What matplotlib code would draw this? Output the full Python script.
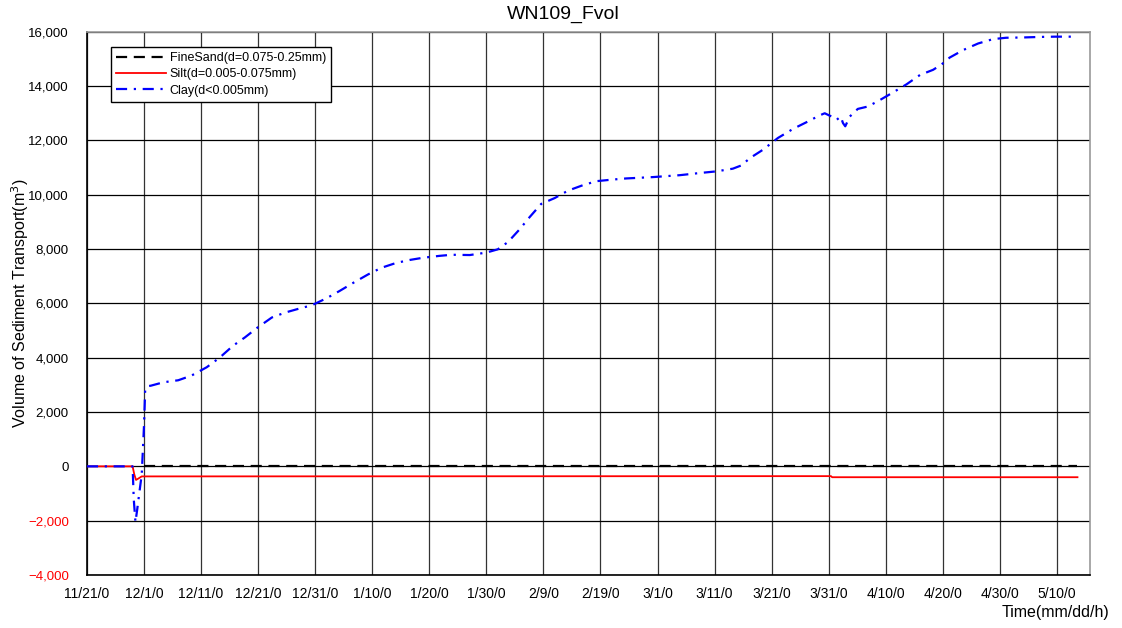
import matplotlib
matplotlib.use("Agg")
import matplotlib.pyplot as plt
from matplotlib.ticker import FuncFormatter

plt.rcParams['font.family'] = ['Liberation Sans', 'DejaVu Sans']

# Elapsed time in days from 11/21/0
tick_days = [0, 10, 20, 30, 40, 50, 60, 70, 80, 90, 100, 110, 120, 130, 140, 150, 160, 170]
tick_labels = ["11/21/0", "12/1/0", "12/11/0", "12/21/0", "12/31/0", "1/10/0", "1/20/0",
               "1/30/0", "2/9/0", "2/19/0", "3/1/0", "3/11/0", "3/21/0", "3/31/0",
               "4/10/0", "4/20/0", "4/30/0", "5/10/0"]

# Clay (d<0.005mm)
clay_days = [0, 8.0, 8.2, 8.5, 8.8, 9.2, 9.6, 10.0, 10.2, 10.6, 11.2, 13.4, 16.0, 18.3, 21.0,
             23.3, 25.6, 27.7, 29.9, 32.4, 34.7, 37.4, 39.4, 42.0, 44.3, 46.7, 49.3, 51.6,
             54.2, 56.6, 58.9, 61.8, 63.9, 67.1, 70.0, 72.0, 73.8, 75.8, 77.6, 79.6, 82.0,
             84.3, 86.9, 89.3, 92.2, 94.5, 99.2, 103.9, 107.4, 110.3, 113.2, 114.7, 116.2,
             118.5, 121.1, 123.8, 126.1, 128.4, 129.3, 130.5, 131.4, 132.1, 132.5, 132.9,
             133.7, 135.1, 136.9, 139.0, 141.3, 143.6, 146.0, 148.3, 149.8, 151.2, 153.6,
             156.2, 158.8, 161.1, 164.0, 167.0, 169.6, 173.4]
clay_vals = [0, 0, -1200, -2050, -1600, -940, -300, 1500, 2800, 2950, 2970, 3095, 3170, 3340,
             3650, 4010, 4440, 4750, 5110, 5480, 5660, 5820, 5930, 6190, 6460, 6760, 7070,
             7310, 7490, 7600, 7680, 7750, 7790, 7780, 7870, 7990, 8260, 8720, 9180, 9660,
             9880, 10150, 10350, 10500, 10560, 10600, 10650, 10720, 10800, 10860, 10960,
             11080, 11350, 11660, 12090, 12430, 12670, 12920, 13000, 12880, 12760, 12880,
             12640, 12520, 12880, 13160, 13250, 13490, 13770, 14060, 14410, 14600, 14800,
             15050, 15330, 15570, 15730, 15780, 15790, 15810, 15820, 15820]

# Silt (d=0.005-0.075mm)
silt_days = [0, 8.0, 8.3, 8.6, 9.0, 9.6, 10.0, 130.4, 130.6, 173.6]
silt_vals = [0, 0, -300, -500, -450, -370, -370, -360, -400, -400]

# FineSand (d=0.075-0.25mm)
sand_days = [10.0, 173.6]
sand_vals = [0, 0]

fig = plt.figure(figsize=(11.22, 6.28), dpi=100)
ax = fig.add_axes([0.0775, 0.0844, 0.894, 0.865])

ax.plot(sand_days, sand_vals, color='black', lw=1.6, dashes=(5, 3),
        label='FineSand(d=0.075-0.25mm)', zorder=3)
ax.plot(silt_days, silt_vals, color='#ff0000', lw=1.3,
        label='Silt(d=0.005-0.075mm)', zorder=4)
ax.plot(clay_days, clay_vals, color='#0000ff', lw=1.6, dashes=(5, 3, 1, 3),
        label='Clay(d<0.005mm)', zorder=5)

ax.set_xlim(0, 175.8)
ax.set_ylim(-4000, 16000)
ax.set_xticks(tick_days)
ax.set_xticklabels(tick_labels)
ax.set_yticks(range(-4000, 16001, 2000))


def fmt(v, pos):
    s = f"{abs(int(v)):,}"
    return "\u2212" + s if v < 0 else s


ax.yaxis.set_major_formatter(FuncFormatter(fmt))
for lab in ax.get_yticklabels():
    if lab.get_text().startswith("\u2212"):
        lab.set_color('#ff0000')

ax.tick_params(axis='x', length=0, labelsize=10, pad=9)
ax.tick_params(axis='y', length=0, labelsize=9.5, pad=13)
ax.grid(axis='x', color='#333333', lw=0.9)
ax.grid(axis='y', color='black', lw=0.9)
ax.set_axisbelow(True)

for side in ('left', 'bottom'):
    ax.spines[side].set_color('black')
    ax.spines[side].set_linewidth(1.2)
for side in ('top', 'right'):
    ax.spines[side].set_color('#999999')
    ax.spines[side].set_linewidth(1.2)

fig.text(0.502, 0.977, 'WN109_Fvol', ha='center', va='center', fontsize=14)
ax.set_ylabel('Volume of Sediment Transport(m$^3$)', fontsize=11.5)
ax.yaxis.set_label_coords(-0.056, 0.5)
fig.text(0.989, 0.013, 'Time(mm/dd/h)', ha='right', va='bottom', fontsize=11.5)

leg = ax.legend(loc='upper left', bbox_to_anchor=(0.024, 0.972), fontsize=9,
                frameon=True, fancybox=False, framealpha=1, edgecolor='black',
                handlelength=4.0, handletextpad=0.3, labelspacing=0.35,
                borderpad=0.4, borderaxespad=0)
leg.get_frame().set_linewidth(1.0)

fig.savefig('out.png', dpi=100)
